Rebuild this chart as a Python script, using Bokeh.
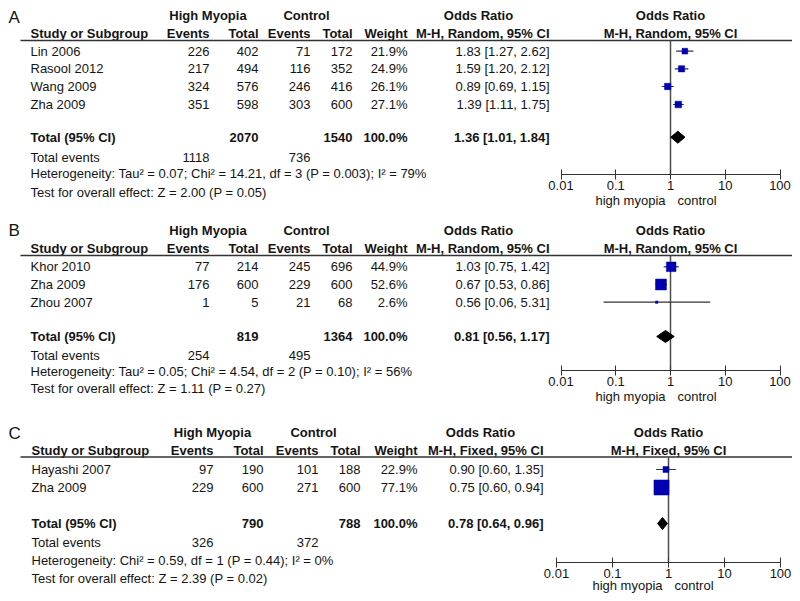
from bokeh.plotting import figure
from bokeh.layouts import column
from bokeh.models import Range1d, ColumnDataSource, FixedTicker, LinearScale
from bokeh.core.properties import value
from bokeh.embed import file_html
from bokeh.resources import INLINE

FONT = "Liberation Sans"
FS = "13px"
TXT = "#141414"
BLUE = "#0000b0"

# ---------------- data ----------------
A_studies = ["Lin 2006", "Rasool 2012", "Wang 2009", "Zha 2009"]
A_hm_events = [226, 217, 324, 351]
A_hm_total = [402, 494, 576, 598]
A_c_events = [71, 116, 246, 303]
A_c_total = [172, 352, 416, 600]
A_weight = [21.9, 24.9, 26.1, 27.1]
A_or = [1.83, 1.59, 0.89, 1.39]
A_lo = [1.27, 1.20, 0.69, 1.11]
A_hi = [2.62, 2.12, 1.15, 1.75]
A_pooled = [1.36, 1.01, 1.84]
A_method = "M-H, Random, 95% CI"
A_het = "Heterogeneity: Tau\u00b2 = 0.07; Chi\u00b2 = 14.21, df = 3 (P = 0.003); I\u00b2 = 79%"
A_test = "Test for overall effect: Z = 2.00 (P = 0.05)"

B_studies = ["Khor 2010", "Zha 2009", "Zhou 2007"]
B_hm_events = [77, 176, 1]
B_hm_total = [214, 600, 5]
B_c_events = [245, 229, 21]
B_c_total = [696, 600, 68]
B_weight = [44.9, 52.6, 2.6]
B_or = [1.03, 0.67, 0.56]
B_lo = [0.75, 0.53, 0.06]
B_hi = [1.42, 0.86, 5.31]
B_pooled = [0.81, 0.56, 1.17]
B_method = "M-H, Random, 95% CI"
B_het = "Heterogeneity: Tau\u00b2 = 0.05; Chi\u00b2 = 4.54, df = 2 (P = 0.10); I\u00b2 = 56%"
B_test = "Test for overall effect: Z = 1.11 (P = 0.27)"

C_studies = ["Hayashi 2007", "Zha 2009"]
C_hm_events = [97, 229]
C_hm_total = [190, 600]
C_c_events = [101, 271]
C_c_total = [188, 600]
C_weight = [22.9, 77.1]
C_or = [0.90, 0.75]
C_lo = [0.60, 0.60]
C_hi = [1.35, 0.94]
C_pooled = [0.78, 0.64, 0.96]
C_method = "M-H, Fixed, 95% CI"
C_het = "Heterogeneity: Chi\u00b2 = 0.59, df = 1 (P = 0.44); I\u00b2 = 0%"
C_test = "Test for overall effect: Z = 2.39 (P = 0.02)"

TICKS = [0.01, 0.1, 1, 10, 100]
TICK_LABELS = ["0.01", "0.1", "1", "10", "100"]
LEFT_LABEL = "high myopia"
RIGHT_LABEL = "control"

# ---------------- layout (page pixel positions) ----------------
W = 792
LAY_A = dict(top=0, bottom=210, lab=16.5, h1=15, h2=32.5, line=40,
             rows=[50.7, 68.3, 86, 104], total=136.7, tev=156.7, het=173.3, test=191.7,
             axis=174, lab_dy=25.5, name=30, e1=209, t1=258, e2=310, t2=352, w=407,
             orr=549, hm=207.5, ctrl=306, orh=478, one=670, dec=54.75, loff=-5, roff=7)
LAY_B = dict(top=210, bottom=406, lab=230, h1=230, h2=248.3, line=255,
             rows=[266.3, 284, 301.7], total=336, tev=355, het=370.7, test=388.3,
             axis=370, lab_dy=26, name=30, e1=209, t1=258, e2=310, t2=352, w=407,
             orr=549, hm=207.5, ctrl=306, orh=478, one=670, dec=54.75, loff=-5, roff=7)
LAY_C = dict(top=406, bottom=593, lab=433, h1=432, h2=450, line=456.5,
             rows=[469, 487], total=523, tev=542, het=560, test=578,
             axis=562, lab_dy=23, name=31, e1=213, t1=263, e2=318, t2=360, w=417,
             orr=543, hm=212, ctrl=313, orh=480, one=668, dec=56, loff=-6, roff=6)


def txt(fig, xs, ys, ss, align="left", bold=False, size=FS, rng="px", x_offset=0):
    src = ColumnDataSource(dict(x=list(xs), y=list(ys), s=list(ss)))
    fig.text(x="x", y="y", text="s", source=src, text_align=align,
             text_baseline="middle", text_font=value(FONT), text_font_size=size,
             text_font_style="bold" if bold else "normal", text_color=TXT,
             x_offset=x_offset, x_range_name=rng)


def make_panel(letter, studies, hm_e, hm_t, c_e, c_t, weight, orv, lo, hi, pooled,
               method, het, test, L):
    top, bot = L["top"], L["bottom"]
    H = bot - top
    ax_y = L["axis"]
    rows_y = L["rows"][:len(studies)]
    lo_edge = 10 ** ((0 - L["one"]) / L["dec"])
    hi_edge = 10 ** ((W - L["one"]) / L["dec"])

    p = figure(width=W, height=H, x_axis_type="log",
               x_range=Range1d(lo_edge, hi_edge), y_range=Range1d(bot, top),
               output_backend="svg", toolbar_location=None, y_axis_location=None,
               min_border=0, outline_line_color=None, background_fill_color="white",
               border_fill_color="white")
    p.extra_x_ranges = {"px": Range1d(0, W)}
    p.extra_x_scales = {"px": LinearScale()}
    p.grid.visible = False

    ax = p.xaxis[0]
    ax.fixed_location = ax_y
    ax.ticker = FixedTicker(ticks=TICKS)
    ax.major_label_overrides = {tk: lb for tk, lb in zip(TICKS, TICK_LABELS)}
    ax.bounds = (TICKS[0], TICKS[-1])
    ax.major_tick_in = 5
    ax.major_tick_out = 5
    ax.minor_tick_line_color = None
    ax.axis_line_color = "#333333"
    ax.major_tick_line_color = "#333333"
    ax.major_label_standoff = 1
    ax.major_label_text_font = FONT
    ax.major_label_text_font_size = FS
    ax.major_label_text_color = TXT

    # ---- table part ----
    txt(p, [8], [L["lab"]], [letter], size="17px")
    txt(p, [L["hm"], L["ctrl"], L["orh"]], [L["h1"]] * 3,
        ["High Myopia", "Control", "Odds Ratio"], align="center", bold=True)
    txt(p, [L["name"]], [L["h2"]], ["Study or Subgroup"], bold=True)
    txt(p, [L["e1"], L["t1"], L["e2"], L["t2"], L["w"], L["orr"]], [L["h2"]] * 6,
        ["Events", "Total", "Events", "Total", "Weight", method], align="right", bold=True)
    p.segment(x0=[20], y0=[L["line"]], x1=[W], y1=[L["line"]], line_color="#333333",
              line_width=1.5, x_range_name="px")

    txt(p, [L["name"]] * len(studies), rows_y, studies)
    for col, vals in (("e1", hm_e), ("t1", hm_t), ("e2", c_e), ("t2", c_t)):
        txt(p, [L[col]] * len(vals), rows_y, [str(v) for v in vals], align="right")
    txt(p, [L["w"]] * len(weight), rows_y, [f"{w:.1f}%" for w in weight], align="right")
    txt(p, [L["orr"]] * len(orv), rows_y,
        [f"{o:.2f} [{a:.2f}, {b:.2f}]" for o, a, b in zip(orv, lo, hi)], align="right")

    txt(p, [L["name"]], [L["total"]], ["Total (95% CI)"], bold=True)
    txt(p, [L["t1"], L["t2"], L["w"], L["orr"]], [L["total"]] * 4,
        [str(sum(hm_t)), str(sum(c_t)), "100.0%",
         f"{pooled[0]:.2f} [{pooled[1]:.2f}, {pooled[2]:.2f}]"], align="right", bold=True)
    txt(p, [L["name"]], [L["tev"]], ["Total events"])
    txt(p, [L["e1"], L["e2"]], [L["tev"]] * 2, [str(sum(hm_e)), str(sum(c_e))], align="right")
    txt(p, [L["name"], L["name"]], [L["het"], L["test"]], [het, test])

    # ---- forest part ----
    p.segment(x0=[1], y0=[L["line"]], x1=[1], y1=[ax_y], line_color="#4d4d4d", line_width=1.5)
    txt(p, [1], [L["h1"]], ["Odds Ratio"], align="center", bold=True, rng="default")
    txt(p, [1], [L["h2"]], [method], align="center", bold=True, rng="default")

    src = ColumnDataSource(dict(est=orv, lo=lo, hi=hi, y=rows_y,
                                size=[2 + 0.17 * w for w in weight]))
    p.segment(x0="lo", y0="y", x1="hi", y1="y", source=src, line_color="#333333", line_width=1.2)
    p.scatter(x="est", y="y", size="size", marker="square", source=src,
              fill_color=BLUE, line_color=BLUE, line_width=0.5)

    ty = L["total"]
    p.patch(x=[pooled[1], pooled[0], pooled[2], pooled[0]], y=[ty, ty - 6, ty, ty + 6],
            fill_color="black", line_color="black")

    ly = ax_y + L["lab_dy"]
    txt(p, [1], [ly], [LEFT_LABEL], align="right", x_offset=L["loff"], rng="default")
    txt(p, [1], [ly], [RIGHT_LABEL], align="left", x_offset=L["roff"], rng="default")
    return p


pA = make_panel("A", A_studies, A_hm_events, A_hm_total, A_c_events, A_c_total, A_weight,
                A_or, A_lo, A_hi, A_pooled, A_method, A_het, A_test, LAY_A)
pB = make_panel("B", B_studies, B_hm_events, B_hm_total, B_c_events, B_c_total, B_weight,
                B_or, B_lo, B_hi, B_pooled, B_method, B_het, B_test, LAY_B)
pC = make_panel("C", C_studies, C_hm_events, C_hm_total, C_c_events, C_c_total, C_weight,
                C_or, C_lo, C_hi, C_pooled, C_method, C_het, C_test, LAY_C)

layout = column(pA, pB, pC)
open("out.html", "w").write(file_html(layout, INLINE))
